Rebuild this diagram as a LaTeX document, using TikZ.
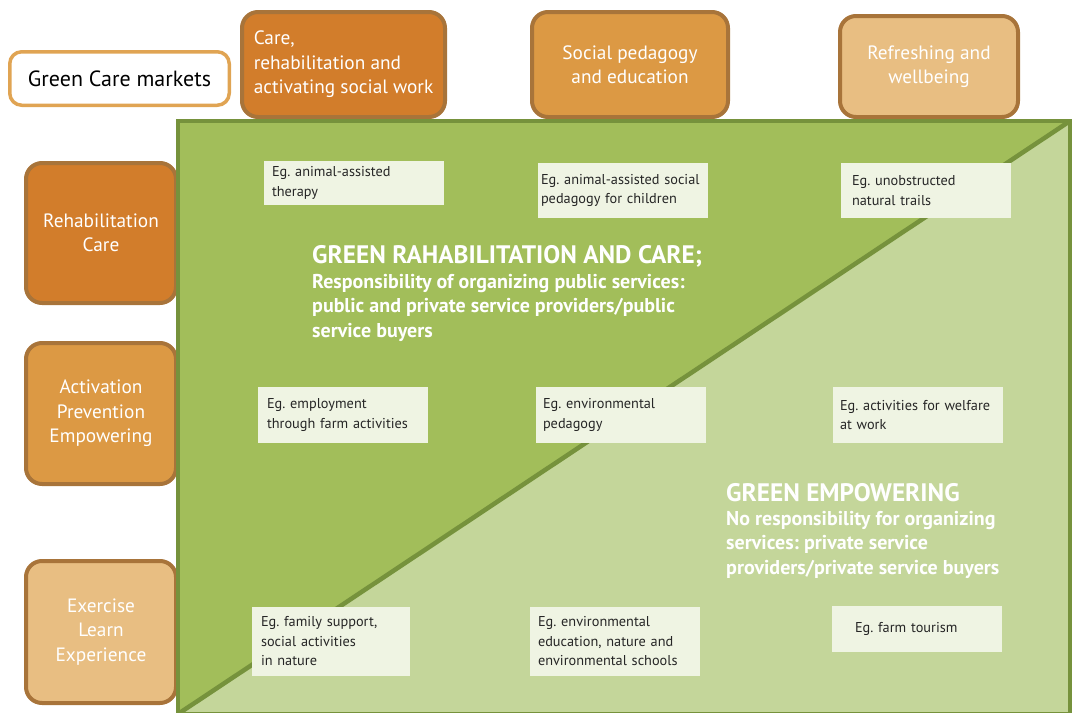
\documentclass[tikz,border=0pt]{standalone}
\usepackage{fontspec}
\setmainfont{PT Sans}
\usepackage{tikz}
\frenchspacing

\definecolor{careorange}{HTML}{D27D2B}
\definecolor{pedaorange}{HTML}{DC9944}
\definecolor{refreshorange}{HTML}{E8BE82}
\definecolor{boxbrown}{HTML}{A8743A}
\definecolor{marketline}{HTML}{E0A453}
\definecolor{darkgreen}{HTML}{A2BE5A}
\definecolor{lightgreen}{HTML}{C4D69A}
\definecolor{greenline}{HTML}{76923C}
\definecolor{egfill}{HTML}{EFF4E3}

\begin{document}
\begin{tikzpicture}[x=1pt,y=-1pt,
    marketbox/.style={draw=boxbrown,line width=4pt,rounded corners=16pt,text=white,align=center,inner sep=0pt,font=\fontsize{19.3}{24.5}\selectfont},
    egbox/.style={fill=egfill,align=left,inner sep=0pt,text=black!85,font=\fontsize{14.3}{19.5}\selectfont},
    headtitle/.style={anchor=west,inner sep=0pt,text=white,font=\fontsize{25.3}{28}\bfseries\selectfont},
    headsub/.style={anchor=west,inner sep=0pt,text=white,align=left,font=\fontsize{20}{24.5}\bfseries\selectfont}]

    \useasboundingbox (0,0) rectangle (1073,712);

    % Title
    \node[draw=marketline,line width=3.5pt,rounded corners=12pt,minimum width=219.5,minimum height=53.5,inner sep=0pt,font=\fontsize{22}{26}\selectfont] (markets) at (119.5,78.5) {Green Care markets};

    % Markets along the top
    \node[marketbox,fill=careorange,minimum width=203,minimum height=105,align=left] (care) at (343.5,64.5) {Care,\\rehabilitation and\\activating social work};
    \node[marketbox,fill=pedaorange,minimum width=196,minimum height=105] (pedagogy) at (630,64.5) {Social pedagogy\\and education};
    \node[marketbox,fill=refreshorange,minimum width=178,minimum height=101] (refresh) at (929,66.5) {Refreshing and\\wellbeing};

    % Levels along the left
    \node[marketbox,fill=careorange,minimum width=150,minimum height=140] (rehab) at (101,233) {Rehabilitation\\Care};
    \node[marketbox,fill=pedaorange,minimum width=150,minimum height=141] (activation) at (101,413.5) {Activation\\Prevention\\Empowering};
    \node[marketbox,fill=refreshorange,minimum width=150,minimum height=142] (exercise) at (101,632) {Exercise\\Learn\\Experience};

    % Green field split by the diagonal
    \fill[darkgreen] (178,121) -- (1070,121) -- (178,714) -- cycle;
    \fill[lightgreen] (1070,121) -- (1070,714) -- (178,714) -- cycle;
    \draw[greenline,line width=4.5pt] (178,714) -- (1070,121);
    \draw[greenline,line width=4pt] (178,121) rectangle (1070,714);

    % Examples, first row
    \node[egbox,minimum width=180,minimum height=44,text width=164] (therapy) at (354,183) {Eg. animal-assisted\\therapy};
    \node[egbox,minimum width=170,minimum height=55,text width=164] (children) at (623,190.5) {Eg. animal-assisted social\\pedagogy for children};
    \node[egbox,minimum width=170,minimum height=55,text width=148] (trails) at (926,190.5) {Eg. unobstructed\\natural trails};

    % Examples, second row
    \node[egbox,minimum width=170,minimum height=56,text width=152] (employment) at (343,415) {Eg. employment\\through farm activities};
    \node[egbox,minimum width=170,minimum height=56,text width=156] (envpedagogy) at (621,415) {Eg. environmental\\pedagogy};
    \node[egbox,minimum width=170,minimum height=56,text width=156] (welfare) at (918,415) {Eg. activities for welfare\\at work};

    % Examples, third row
    \node[egbox,minimum width=158,minimum height=69,text width=140] (family) at (331,641.5) {Eg. family support,\\social activities\\in nature};
    \node[egbox,minimum width=170,minimum height=69,text width=154] (schools) at (615,641.5) {Eg. environmental\\education, nature and\\environmental schools};
    \node[egbox,minimum width=170,minimum height=46,text width=124] (tourism) at (917,629) {Eg. farm tourism};

    % Upper triangle text
    \node[headtitle] (rahatitle) at (312,256) {GREEN RAHABILITATION AND CARE;};
    \node[headsub] (rahasub) at (312,307.5) {Responsibility of organizing public services:\\public and private service providers/public\\service buyers};

    % Lower triangle text
    \node[headtitle] (emptitle) at (726,493) {GREEN EMPOWERING};
    \node[headsub] (empsub) at (726,544.5) {No responsibility for organizing\\services: private service\\providers/private service buyers};
\end{tikzpicture}
\end{document}
